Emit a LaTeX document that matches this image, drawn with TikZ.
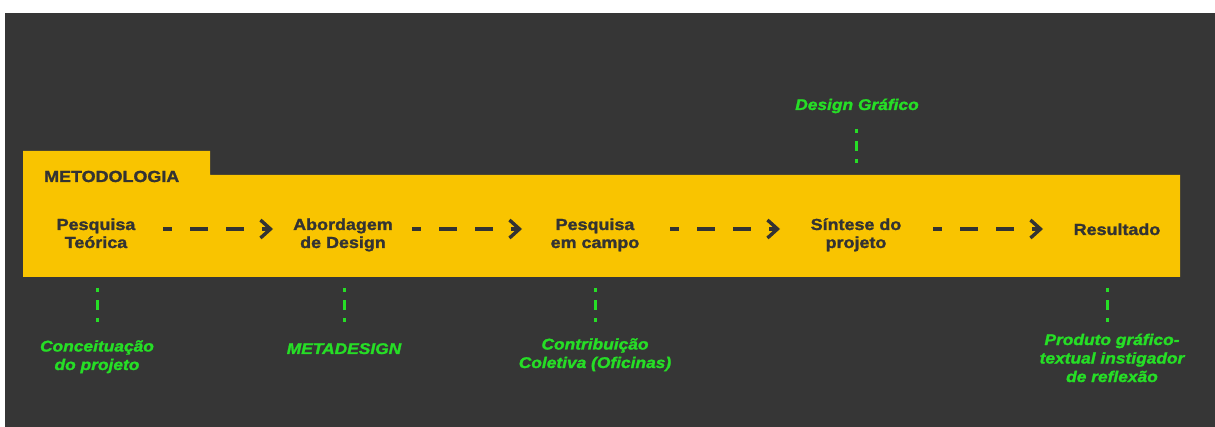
\documentclass[tikz,border=0pt]{standalone}
\usepackage{fontspec}
\setmainfont{Liberation Sans}[FakeStretch=1.12, BoldFeatures={FakeBold=1.5}, BoldItalicFeatures={FakeBold=1.5}]
\usetikzlibrary{arrows.meta}
\definecolor{bgdark}{RGB}{54,54,54}
\definecolor{bandyellow}{RGB}{249,196,0}
\definecolor{ink}{RGB}{51,51,51}
\definecolor{lime}{RGB}{38,222,38}
\begin{document}
\begin{tikzpicture}[x=1pt,y=-1pt,
  stage/.style={font=\bfseries\fontsize{16}{18}\selectfont, text=ink, align=center, inner sep=0pt, anchor=base},
  note/.style={font=\bfseries\itshape\fontsize{15.5}{18.5}\selectfont, text=lime, align=center, inner sep=0pt, anchor=base},
  flow/.style={draw=ink, line width=3.6pt, dash pattern=on 18pt off 18pt, dash phase=9pt, -{Straight Barb[length=10pt,width=18pt,line width=3.4pt]}},
  link/.style={draw=lime, line width=3pt, dash pattern=on 10pt off 8pt, dash phase=6pt}]
\useasboundingbox (0,0) rectangle (1215,427);
\fill[white] (0,0) rectangle (1215,427);
\fill[bgdark] (5,13) rectangle (1215,427);
\fill[fill=bandyellow] (23,151) -- (210,151) -- (210,175) -- (1180,175) -- (1180,277) -- (23,277) -- cycle;
\node[stage, anchor=base west] (title) at (44,182) {METODOLOGIA};
% stages
\node[stage] (s1) at (96,248) {Pesquisa\\Teórica};
\node[stage] (s2) at (343,248) {Abordagem\\de Design};
\node[stage] (s3) at (595,248) {Pesquisa\\em campo};
\node[stage] (s4) at (856,248) {Síntese do\\projeto};
\node[stage] (s5) at (1117,235) {Resultado};
% arrows
\coordinate (a1s) at (163,229); \coordinate (a1e) at (273,229);
\coordinate (a2s) at (412,229); \coordinate (a2e) at (522,229);
\coordinate (a3s) at (670,229); \coordinate (a3e) at (780,229);
\coordinate (a4s) at (933,229); \coordinate (a4e) at (1043,229);
\draw[flow] (a1s) -- (a1e);
\draw[flow] (a2s) -- (a2e);
\draw[flow] (a3s) -- (a3e);
\draw[flow] (a4s) -- (a4e);
% notes
\node[note] (n1) at (97,370) {Conceituação\\do projeto};
\node[note] (n2) at (344,354) {METADESIGN};
\node[note] (n3) at (595,368) {Contribuição\\Coletiva (Oficinas)};
\node[note] (n4) at (857,110) {Design Gráfico};
\node[note] (n5) at (1112,382) {Produto gráfico-\\textual instigador\\de reflexão};
% links
\coordinate (l1a) at (97.5,288); \coordinate (l1b) at (97.5,322);
\coordinate (l2a) at (344,288); \coordinate (l2b) at (344,322);
\coordinate (l3a) at (595,288); \coordinate (l3b) at (595,322);
\coordinate (l4a) at (856.5,129); \coordinate (l4b) at (856.5,163);
\coordinate (l5a) at (1107.5,288); \coordinate (l5b) at (1107.5,322);
\draw[link] (l1a) -- (l1b);
\draw[link] (l2a) -- (l2b);
\draw[link] (l3a) -- (l3b);
\draw[link] (l4a) -- (l4b);
\draw[link] (l5a) -- (l5b);
\end{tikzpicture}
\end{document}
